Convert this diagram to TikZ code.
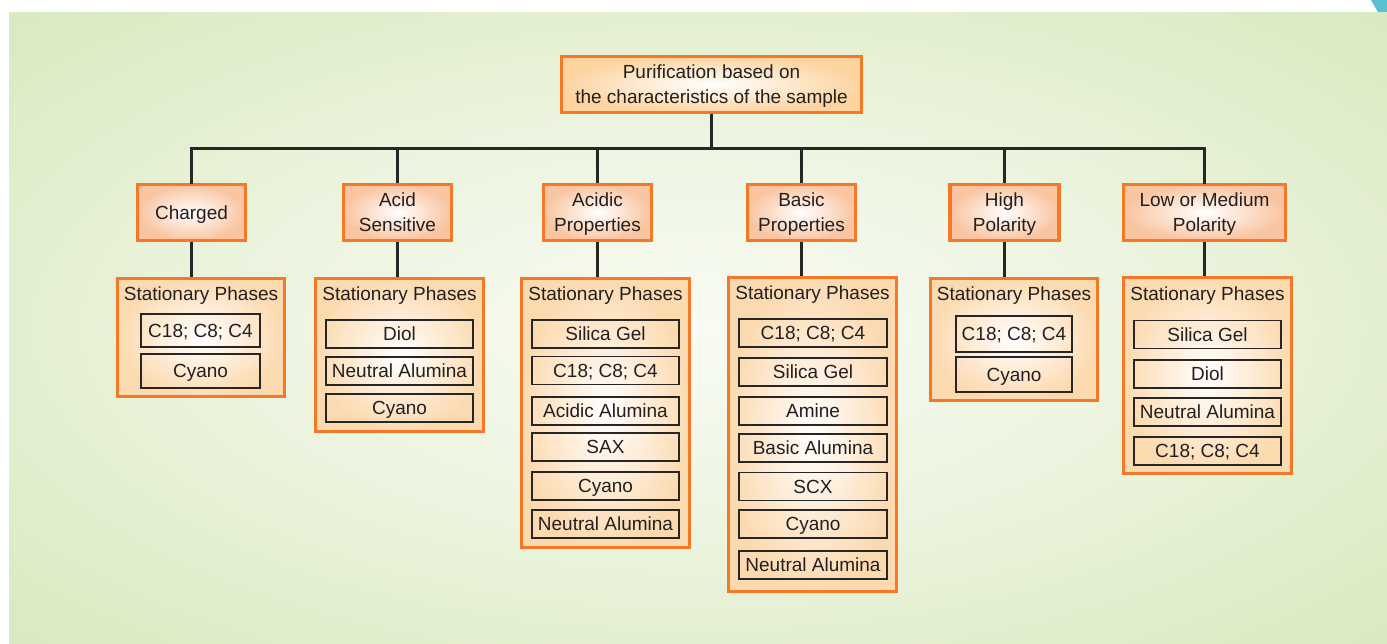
\documentclass[tikz,border=0pt]{standalone}
\usepackage{fontspec}
\setmainfont{Liberation Sans}
\definecolor{bggreen}{RGB}{207,228,176}
\definecolor{bgmid}{RGB}{222,236,200}
\definecolor{bglight}{RGB}{248,251,243}
\definecolor{borange}{RGB}{244,120,38}
\definecolor{catpeach}{RGB}{249,196,160}
\definecolor{stpeach}{RGB}{252,218,176}
\definecolor{toppeach}{RGB}{252,212,160}
\definecolor{linegray}{RGB}{38,38,38}
\definecolor{txt}{RGB}{35,31,32}
\definecolor{cyanc}{RGB}{90,192,208}
\pgfdeclareradialshading{bgshade}{\pgfpoint{0bp}{0bp}}{color(0bp)=(bglight); color(16bp)=(bglight!55!bgmid); color(36bp)=(bgmid!60!bggreen); color(48bp)=(bggreen); color(71bp)=(bggreen)}
\tikzset{
  txtfont/.style={font=\fontsize{19}{25}\selectfont, text=txt, align=center, text depth=0pt},
  topbox/.style={txtfont, draw=borange, line width=3.2pt, shading=radial, inner color=white, outer color=toppeach, minimum width=300pt, minimum height=56pt, inner sep=0pt},
  catbox/.style={txtfont, draw=borange, line width=3.2pt, shading=radial, inner color=white, outer color=catpeach, minimum height=56pt, inner sep=0pt},
  stbox/.style={draw=borange, line width=3.2pt, shading=radial, inner color=white, outer color=stpeach, inner sep=0pt},
  sthead/.style={txtfont, inner sep=0pt},
  phase/.style={txtfont, draw=linegray, line width=1.3pt, inner sep=0pt},
  conn/.style={draw=linegray, line width=3pt}
}
\begin{document}
\begin{tikzpicture}[x=1pt,y=-1pt]
\useasboundingbox (0,0) rectangle (1387,643);
% background
\fill[white] (0,0) rectangle (1387,643);
\fill[cyanc] (1371,0) -- (1387,0) -- (1387,14) -- (1379,14) -- cycle;
\shade[shading=bgshade] (9,12) rectangle (1387,643);

% top
\node[topbox, text depth=-4pt] (top) at (711.5,84.5) {Purification based on\\the characteristics of the sample};

% categories
\node[catbox, minimum width=108pt] (c1) at (191.5,212.5) {Charged};
\node[catbox, minimum width=108pt] (c2) at (397.5,212.5) {Acid\\Sensitive};
\node[catbox, minimum width=108pt] (c3) at (597.5,212.5) {Acidic\\Properties};
\node[catbox, minimum width=108pt] (c4) at (801.5,212.5) {Basic\\Properties};
\node[catbox, minimum width=109pt] (c5) at (1004.5,212.5) {High\\Polarity};
\node[catbox, minimum width=162pt] (c6) at (1204.5,212.5) {Low or Medium\\Polarity};

% stationary boxes
\node[stbox, minimum width=167pt, minimum height=118pt] (s1) at (201,337.5) {};
\node[stbox, minimum width=168pt, minimum height=153pt] (s2) at (399.5,355) {};
\node[stbox, minimum width=168pt, minimum height=269pt] (s3) at (605.5,413) {};
\node[stbox, minimum width=168pt, minimum height=314pt] (s4) at (812.5,434.5) {};
\node[stbox, minimum width=167pt, minimum height=122pt] (s5) at (1014,339.5) {};
\node[stbox, minimum width=168pt, minimum height=196pt] (s6) at (1207.5,375.5) {};

\foreach \s/\y in {s1/294,s2/294,s3/294,s4/293,s5/294,s6/294}
  \node[sthead] (\s h) at (\s.north |- 0,\y) {Stationary Phases};

% phases: charged
\node[phase, minimum width=119pt, minimum height=33pt] (p11) at (200.5,330.5) {C18; C8; C4};
\node[phase, minimum width=119pt, minimum height=34pt] (p12) at (200.5,371) {Cyano};
% acid sensitive
\node[phase, minimum width=147pt, minimum height=28pt] (p21) at (399.5,334) {Diol};
\node[phase, minimum width=147pt, minimum height=28pt] (p22) at (399.5,371) {Neutral Alumina};
\node[phase, minimum width=147pt, minimum height=28pt] (p23) at (399.5,408) {Cyano};
% acidic properties
\node[phase, minimum width=147pt, minimum height=28pt] (p31) at (605.5,334) {Silica Gel};
\node[phase, minimum width=147pt, minimum height=28pt] (p32) at (605.5,370.5) {C18; C8; C4};
\node[phase, minimum width=147pt, minimum height=28pt] (p33) at (605.5,411) {Acidic Alumina};
\node[phase, minimum width=147pt, minimum height=28pt] (p34) at (605.5,447) {SAX};
\node[phase, minimum width=147pt, minimum height=28pt] (p35) at (605.5,486) {Cyano};
\node[phase, minimum width=147pt, minimum height=28pt] (p36) at (605.5,524) {Neutral Alumina};
% basic properties
\node[phase, minimum width=148pt, minimum height=28pt] (p41) at (813,333) {C18; C8; C4};
\node[phase, minimum width=148pt, minimum height=28pt] (p42) at (813,372) {Silica Gel};
\node[phase, minimum width=148pt, minimum height=28pt] (p43) at (813,411) {Amine};
\node[phase, minimum width=148pt, minimum height=28pt] (p44) at (813,448) {Basic Alumina};
\node[phase, minimum width=148pt, minimum height=28pt] (p45) at (813,486.5) {SCX};
\node[phase, minimum width=148pt, minimum height=28pt] (p46) at (813,524) {Cyano};
\node[phase, minimum width=148pt, minimum height=28pt] (p47) at (813,565) {Neutral Alumina};
% high polarity
\node[phase, minimum width=116pt, minimum height=36pt] (p51) at (1014,334) {C18; C8; C4};
\node[phase, minimum width=116pt, minimum height=35pt] (p52) at (1014,374.5) {Cyano};
% low or medium polarity
\node[phase, minimum width=147pt, minimum height=28pt] (p61) at (1207.5,334.5) {Silica Gel};
\node[phase, minimum width=147pt, minimum height=28pt] (p62) at (1207.5,374) {Diol};
\node[phase, minimum width=147pt, minimum height=28pt] (p63) at (1207.5,412) {Neutral Alumina};
\node[phase, minimum width=147pt, minimum height=28pt] (p64) at (1207.5,451) {C18; C8; C4};

% connectors
\coordinate (bus) at (top.south |- 0,148.5);
\draw[conn] (top.south) -- (bus);
\draw[conn, line cap=rect] (c1.north) |- (bus) -| (c6.north);
\foreach \c in {c2,c3,c4,c5}
  \draw[conn] (\c.north) -- (\c.north |- bus);
\foreach \i in {1,...,6}
  \draw[conn] (c\i.south) -- (c\i.south |- s\i.north);
\end{tikzpicture}
\end{document}
